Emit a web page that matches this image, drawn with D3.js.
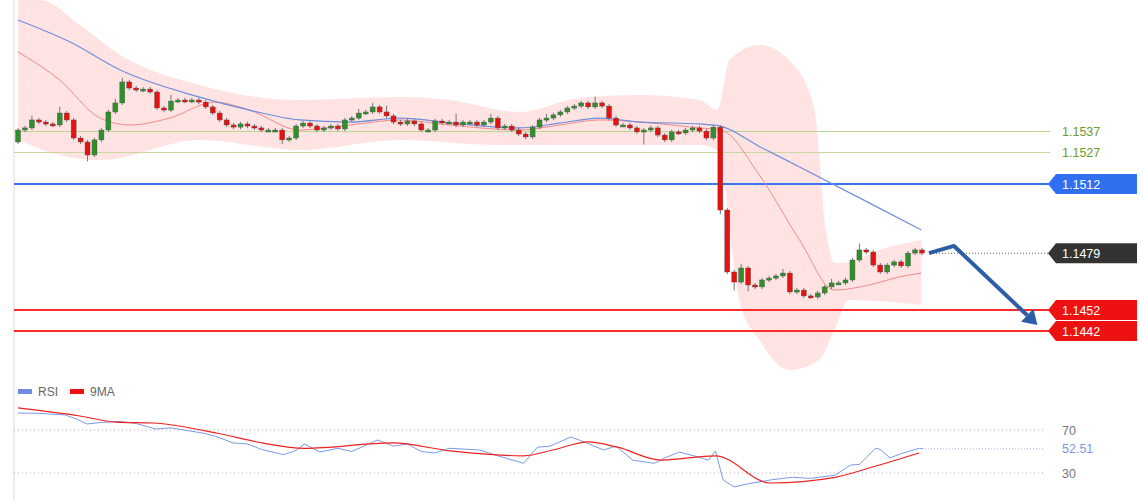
<!DOCTYPE html>
<html><head><meta charset="utf-8">
<script src="https://cdn.jsdelivr.net/npm/d3@7/dist/d3.min.js"></script>
<style>body{margin:0;background:#fff;}svg{display:block;font-family:"Liberation Sans",Arial,sans-serif;}</style>
</head><body><svg id="c" width="1140" height="500"></svg>
<script>
// closing prices per candle (open = previous close)
const closes=[1.15377,1.15387,1.15425,1.15415,1.15406,1.15401,1.15458,1.15425,1.15339,1.15320,
1.15258,1.15330,1.15377,1.15463,1.15506,1.15606,1.15577,1.15568,1.15572,1.15558,
1.15482,1.15472,1.15515,1.15520,1.15515,1.15520,1.15510,1.15487,1.15458,1.15425,
1.15401,1.15391,1.15406,1.15396,1.15387,1.15377,1.15377,1.15377,1.15330,1.15339,
1.15396,1.15410,1.15396,1.15377,1.15387,1.15396,1.15382,1.15425,1.15434,1.15458,
1.15463,1.15487,1.15463,1.15444,1.15415,1.15406,1.15420,1.15406,1.15377,1.15377,
1.15420,1.15415,1.15415,1.15401,1.15415,1.15415,1.15401,1.15415,1.15434,1.15387,
1.15396,1.15377,1.15358,1.15344,1.15391,1.15425,1.15434,1.15449,1.15463,1.15482,
1.15491,1.15506,1.15487,1.15506,1.15491,1.15434,1.15401,1.15401,1.15387,1.15368,
1.15377,1.15387,1.15353,1.15330,1.15368,1.15363,1.15377,1.15387,1.15372,1.15339,
1.15391,1.14996,1.14701,1.14653,1.14720,1.14639,1.14630,1.14663,1.14672,1.14682,
1.14696,1.14606,1.14615,1.14587,1.14582,1.14601,1.14630,1.14649,1.14649,1.14663,
1.14758,1.14806,1.14796,1.14734,1.14701,1.14734,1.14749,1.14730,1.14791,1.14806,1.14791];
const firstOpen=1.15320;
// wick extensions in pips (above, below)
const wickUp=[1,1,2,1,1,1,3,1,1,1,1,1,1,1,2,2,1,1,1,1,1,1,3,1,1,1,1,1,1,1,
1,1,1,1,1,1,1,1,1,1,1,1,1,1,1,1,1,1,1,2,1,2,1,3,1,1,1,1,1,1,
1,1,1,4,1,1,1,1,2,1,1,1,1,1,1,1,2,1,1,1,1,1,1,3,1,1,1,1,1,1,
1,1,1,1,1,1,1,1,1,1,1,1,1,1,2,1,1,1,1,1,2,1,1,1,1,1,1,2,1,1,
1,3,1,1,1,1,1,1,1,1,1];
const wickDn=[1,1,1,1,1,1,1,1,1,1,3,1,1,1,1,1,1,1,1,1,1,1,1,1,1,1,1,1,1,1,
1,1,1,1,1,1,1,1,2,1,1,1,1,1,1,1,1,1,1,1,1,1,1,1,1,1,1,1,1,1,
1,1,1,1,1,1,1,1,1,1,1,1,1,1,1,1,1,1,1,1,1,1,1,1,1,1,1,1,1,1,
6,1,1,1,1,1,1,1,1,1,1,2,1,4,1,3,1,1,1,1,1,1,1,1,1,1,1,1,1,1,
1,1,1,1,1,1,1,1,1,1,1];
// moving averages & band, [candle index, price]
const maSlow=[[0,1.15901],[7.5,1.15796],[14.7,1.15663],[26.1,1.15534],[33.3,1.15472],[40.5,1.15425],[47.7,1.15415],[54.9,1.15434],[63.5,1.15406],[72.1,1.15387],[77.9,1.15410],[83.6,1.15434],[89.4,1.15415],[98,1.15406],[101,1.15396],[106.6,1.15299],[112.4,1.15201],[122.4,1.15030],[129.9,1.14901]];
const maFast=[[0,1.15749],[6,1.15615],[11.8,1.15434],[16.1,1.15401],[21.8,1.15434],[28.3,1.15510],[33.3,1.15472],[40.5,1.15377],[47.7,1.15401],[54.9,1.15425],[62,1.15401],[72.1,1.15377],[77.9,1.15401],[83.6,1.15425],[89.4,1.15415],[98,1.15387],[101.1,1.15377],[106.6,1.15163],[112.4,1.14853],[117.4,1.14615],[122.4,1.14639],[126.7,1.14677],[129.9,1.14696]];
const bandUp=[[0,1.15996],[3.2,1.15996],[8.9,1.15877],[14.7,1.15734],[26.1,1.15591],[40.5,1.15520],[54.9,1.15534],[62,1.15520],[72.1,1.15463],[80.7,1.15530],[89.4,1.15544],[98,1.15520],[100.6,1.15472],[102.3,1.15710],[106.6,1.15782],[110.9,1.15710],[114.5,1.15480],[116.2,1.14900],[117.4,1.14744],[119.5,1.14749],[123.9,1.14806],[129.9,1.14853]];
const bandDn=[[0,1.15330],[6,1.15258],[11.8,1.15234],[26.1,1.15330],[40.5,1.15282],[54.9,1.15330],[69,1.15306],[83.6,1.15306],[98,1.15306],[100.6,1.15282],[103.7,1.14568],[106.6,1.14377],[110.9,1.14234],[115.2,1.14282],[117.4,1.14425],[119.5,1.14568],[129.9,1.14544]];
const levels=[{p:1.1537,t:"1.1537",k:"g1"},{p:1.1527,t:"1.1527",k:"g2"},{p:1.1512,t:"1.1512",k:"blue"},{p:1.1452,t:"1.1452",k:"red"},{p:1.1442,t:"1.1442",k:"red"}];
const lastLabel={p:1.1479,t:"1.1479"};
const arrowPts=[[131,1.14791],[134.6,1.14825],[146.6,1.14449]];
// RSI & its 9MA, [candle index, value]
const rsi=[[0,85.8],[3,85.5],[6.8,84],[8.5,80],[9.9,75.6],[12,77],[14.7,78],[17,76],[19.8,71],[22,72],[26.7,67],[28.5,64],[30.9,58],[33,57],[35,52],[38.2,47],[40,51],[41.2,57],[43.4,49.5],[46,53],[48,50],[51.7,60.7],[54,55],[56,57],[58,50],[60,48.6],[62,53],[66.4,51.4],[69,46],[72.7,39],[74.7,54],[76.5,55],[79.5,63.5],[81,60],[84.2,51.4],[86,55],[88.4,42],[91.5,39],[93,44],[95.1,49.5],[97.2,46],[99.3,42],[100.3,50.5],[101.4,23.5],[103,17],[105,20],[108.2,23.5],[110,25],[111.4,26],[114,25],[117.5,28],[119.7,37.4],[121,38],[123.3,53],[124,52],[125.4,44],[127,48],[129.6,53],[130.2,52.51]];
const rsiMa=[[0,90.5],[8.9,83],[14.1,77.4],[19.4,76.5],[28.7,67],[35.1,58],[41.2,53],[53.9,58],[62.2,50.5],[72.7,46],[76.9,51.4],[82,59],[86.2,54],[92.5,42],[100.3,46],[108.2,20.7],[117.5,26],[122.9,35.6],[129.6,48.6]];
const rsiTicks=[70,30];
const rsiLast=52.51;

const svg=d3.select("#c");
const x=d3.scaleLinear().domain([0,130]).range([18,922]);
const y=d3.scaleLinear().domain([1.1512,1.1452]).range([184,310]);
const yr=d3.scaleLinear().domain([70,30]).range([430,473]);
const pip=0.0001;

const upC=d3.line().x(d=>x(d[0])).y(d=>y(d[1])).curve(d3.curveMonotoneX);
const bandPath=upC(bandUp)+"L"+upC(bandDn.slice().reverse()).slice(1)+"Z";
svg.append("path").attr("d",bandPath).attr("fill","#ffd9d9").attr("opacity",0.75);
const pat=svg.append("defs").append("pattern").attr("id","dots").attr("width",6).attr("height",6).attr("patternUnits","userSpaceOnUse");
pat.append("circle").attr("cx",3).attr("cy",3).attr("r",0.6).attr("fill","#fff");
svg.append("path").attr("d",bandPath).attr("fill","url(#dots)").attr("opacity",0.6);

svg.append("line").attr("x1",14).attr("x2",14).attr("y1",0).attr("y2",500).attr("stroke","#dcdcdc");

const lc={g1:"#b8d890",g2:"#c8d8a0",blue:"#3b73ef",red:"#ff2a2a"};
levels.forEach(l=>{
  svg.append("line").attr("x1",14).attr("x2",1050).attr("y1",y(l.p)).attr("y2",y(l.p))
   .attr("stroke",lc[l.k]).attr("stroke-width",l.k=="blue"||l.k=="red"?2:1.2);
});
svg.append("line").attr("x1",930).attr("x2",1048).attr("y1",y(lastLabel.p)).attr("y2",y(lastLabel.p)).attr("stroke","#666").attr("stroke-dasharray","1,2");

const ln=d3.line().x(d=>x(d[0])).y(d=>y(d[1])).curve(d3.curveMonotoneX);
svg.append("path").attr("d",ln(maFast)).attr("fill","none").attr("stroke","#f28a8a").attr("stroke-width",1);
svg.append("path").attr("d",ln(maSlow)).attr("fill","none").attr("stroke","#6f8fdc").attr("stroke-width",1.2);

const w=5;
closes.forEach((c,i)=>{
  const o=i==0?firstOpen:closes[i-1];
  const hi=Math.max(o,c)+wickUp[i]*pip, lo=Math.min(o,c)-wickDn[i]*pip;
  const col=c>=o?"#2f8f2a":"#e81010";
  svg.append("line").attr("x1",x(i)).attr("x2",x(i)).attr("y1",y(hi)).attr("y2",y(lo)).attr("stroke","#777").attr("stroke-width",1);
  const t=y(Math.max(o,c)),b=y(Math.min(o,c));
  svg.append("rect").attr("x",x(i)-w/2).attr("y",t).attr("width",w).attr("height",Math.max(2,b-t)).attr("fill",col).attr("stroke","#555").attr("stroke-width",0.4);
});

const ap=arrowPts.map(d=>[x(d[0]),y(d[1])]);
const e=ap[2],s=ap[1],ang=Math.atan2(e[1]-s[1],e[0]-s[0]);
const back=[e[0]-14*Math.cos(ang),e[1]-14*Math.sin(ang)];
svg.append("path").attr("d",d3.line()([ap[0],ap[1],back])).attr("fill","none").attr("stroke","#2c5ea8").attr("stroke-width",4).attr("stroke-linejoin","round");
const hw=9;
svg.append("path").attr("d",d3.line()([e,[back[0]+hw*Math.sin(ang),back[1]-hw*Math.cos(ang)],[back[0]-hw*Math.sin(ang),back[1]+hw*Math.cos(ang)]])+"Z").attr("fill","#2c5ea8");

function box(p,t,fill){
  const yy=y(p);
  svg.append("path").attr("d",`M1048,${yy}L1056,${yy-10}H1137V${yy+10}H1056Z`).attr("fill",fill);
  svg.append("text").attr("x",1062).attr("y",yy+4.5).attr("fill","#fff").attr("font-size",12.5).text(t);
}
levels.forEach(l=>{
  if(l.k=="g1"||l.k=="g2") svg.append("text").attr("x",1062).attr("y",y(l.p)+4.5).attr("fill","#6d9a2c").attr("font-size",12.5).text(l.t);
  else box(l.p,l.t,l.k=="blue"?"#2f6ff0":"#ee1111");
});
box(lastLabel.p,lastLabel.t,"#333");

svg.append("rect").attr("x",18).attr("y",389).attr("width",14).attr("height",5).attr("fill","#6d8ee0");
svg.append("text").attr("x",38).attr("y",396).attr("font-size",12).attr("fill","#666").text("RSI");
svg.append("rect").attr("x",70).attr("y",389).attr("width",14).attr("height",5).attr("fill","#ee1111");
svg.append("text").attr("x",90).attr("y",396).attr("font-size",12).attr("fill","#666").text("9MA");
rsiTicks.forEach(v=>{
  svg.append("line").attr("x1",14).attr("x2",1045).attr("y1",yr(v)).attr("y2",yr(v)).attr("stroke","#aaa").attr("stroke-dasharray","1,3");
  svg.append("text").attr("x",1062).attr("y",yr(v)+4.5).attr("font-size",12.5).attr("fill","#777").text(v);
});
svg.append("line").attr("x1",925).attr("x2",1045).attr("y1",yr(rsiLast)).attr("y2",yr(rsiLast)).attr("stroke","#9db4ee").attr("stroke-dasharray","1,2");
svg.append("text").attr("x",1062).attr("y",yr(rsiLast)+4.5).attr("font-size",12.5).attr("fill","#7d97e0").text(rsiLast.toFixed(2));
const lr=d3.line().x(d=>x(d[0])).y(d=>yr(d[1]));
svg.append("path").attr("d",lr(rsi)).attr("fill","none").attr("stroke","#7b9ae6").attr("stroke-width",1);
svg.append("path").attr("d",lr.curve(d3.curveMonotoneX)(rsiMa)).attr("fill","none").attr("stroke","#ee2020").attr("stroke-width",1.2);
</script></body></html>
